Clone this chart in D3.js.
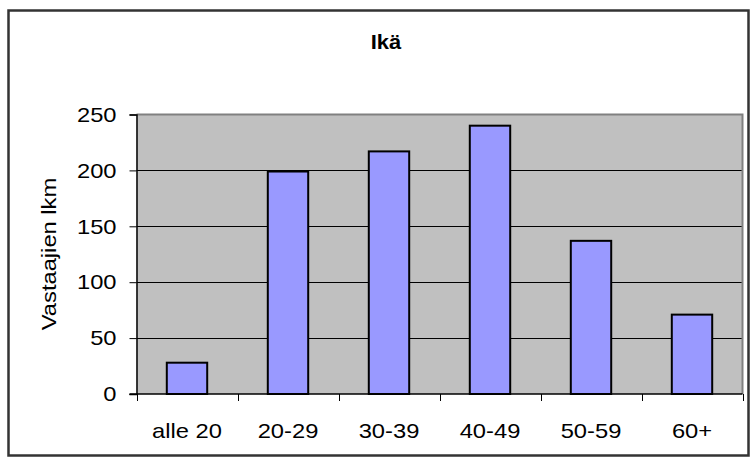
<!DOCTYPE html>
<html>
<head>
<meta charset="utf-8">
<script src="https://cdn.jsdelivr.net/npm/d3@7/dist/d3.min.js"></script>
<style>
  html, body { margin: 0; padding: 0; background: #fff; }
  svg { display: block; }
  text { font-family: "Liberation Sans", Arial, sans-serif; fill: #000; }
</style>
</head>
<body>
<svg id="chart" width="754" height="463"></svg>
<script>
const categories = ["alle 20", "20-29", "30-39", "40-49", "50-59", "60+"];
const values = [28, 199, 217, 240, 137, 71];
const yTicks = [0, 50, 100, 150, 200, 250];
const title = "Ikä";
const yTitle = "Vastaajien lkm";

const svg = d3.select("#chart");
const SX = 1.13; // horizontal text widening seen in the reference
const FS = 21;
const plot = { left: 136.5, top: 114.5, right: 742.5, bottom: 394 };

// outer frame
svg.append("rect")
  .attr("x", 8.5).attr("y", 10.5)
  .attr("width", 740).attr("height", 445)
  .attr("fill", "#fff").attr("stroke", "#333").attr("stroke-width", 2.5);

const x = d3.scaleBand().domain(categories).range([plot.left, plot.right]).paddingInner(0.6).paddingOuter(0.3);
const xb = d3.scaleBand().domain(categories).range([plot.left, plot.right]);
const y = d3.scaleLinear().domain([0, 250]).range([plot.bottom, plot.top]);

// plot background
svg.append("rect")
  .attr("x", plot.left).attr("y", plot.top)
  .attr("width", plot.right - plot.left).attr("height", plot.bottom - plot.top)
  .attr("fill", "#c0c0c0");

// gridlines
svg.append("g").selectAll("line")
  .data(yTicks.filter(d => d > 0 && d < 250))
  .join("line")
  .attr("x1", plot.left).attr("x2", plot.right)
  .attr("y1", d => Math.round(y(d)) + 0.5).attr("y2", d => Math.round(y(d)) + 0.5)
  .attr("stroke", "#000").attr("stroke-width", 1);

// top and right border of plot (grey)
svg.append("path")
  .attr("d", `M${plot.left},${plot.top} H${plot.right} V${plot.bottom}`)
  .attr("fill", "none").attr("stroke", "#808080").attr("stroke-width", 2);

// bars
svg.append("g").selectAll("rect")
  .data(categories.map((c, i) => ({ c, v: values[i] })))
  .join("rect")
  .attr("x", d => x(d.c))
  .attr("y", d => y(d.v))
  .attr("width", x.bandwidth())
  .attr("height", d => y(0) - y(d.v))
  .attr("fill", "#9999ff")
  .attr("stroke", "#000")
  .attr("stroke-width", 2);

// y axis
const yAxis = d3.axisLeft(y).tickValues(yTicks).tickSize(7).tickPadding(0);
const gy = svg.append("g").attr("transform", `translate(${plot.left},0)`).call(yAxis);
gy.select(".domain").attr("stroke", "#000").attr("stroke-width", 1.5);
gy.selectAll(".tick line").attr("stroke", "#000");
gy.selectAll("text")
  .attr("font-size", FS)
  .attr("font-family", "Liberation Sans, Arial, sans-serif")
  .attr("fill", "#000")
  .attr("x", -20 / SX)
  .attr("transform", `scale(${SX},1)`);

// x axis with ticks at category boundaries
const gx = svg.append("g").attr("transform", `translate(0,${plot.bottom})`);
gx.append("line").attr("x1", plot.left - 7).attr("x2", plot.right)
  .attr("stroke", "#000").attr("stroke-width", 1.5);
const bounds = categories.map(c => xb(c)).concat([plot.right]);
gx.selectAll("line.tk").data(bounds).join("line").attr("class", "tk")
  .attr("x1", d => Math.round(d) + 0.5).attr("x2", d => Math.round(d) + 0.5)
  .attr("y1", 0).attr("y2", 7).attr("stroke", "#000");
gx.selectAll("text").data(categories).join("text")
  .attr("transform", d => `translate(${xb(d) + xb.bandwidth() / 2},43.5) scale(${SX},1)`)
  .attr("text-anchor", "middle")
  .attr("font-size", FS)
  .text(d => d);

// title
svg.append("text")
  .attr("transform", `translate(386,48.5) scale(1.1,1)`)
  .attr("text-anchor", "middle").attr("font-size", 20).attr("font-weight", "bold")
  .text(title);

// y title
svg.append("text")
  .attr("transform", `translate(55.5,254) rotate(-90) scale(${SX},1)`)
  .attr("text-anchor", "middle").attr("font-size", FS)
  .text(yTitle);
</script>
</body>
</html>
